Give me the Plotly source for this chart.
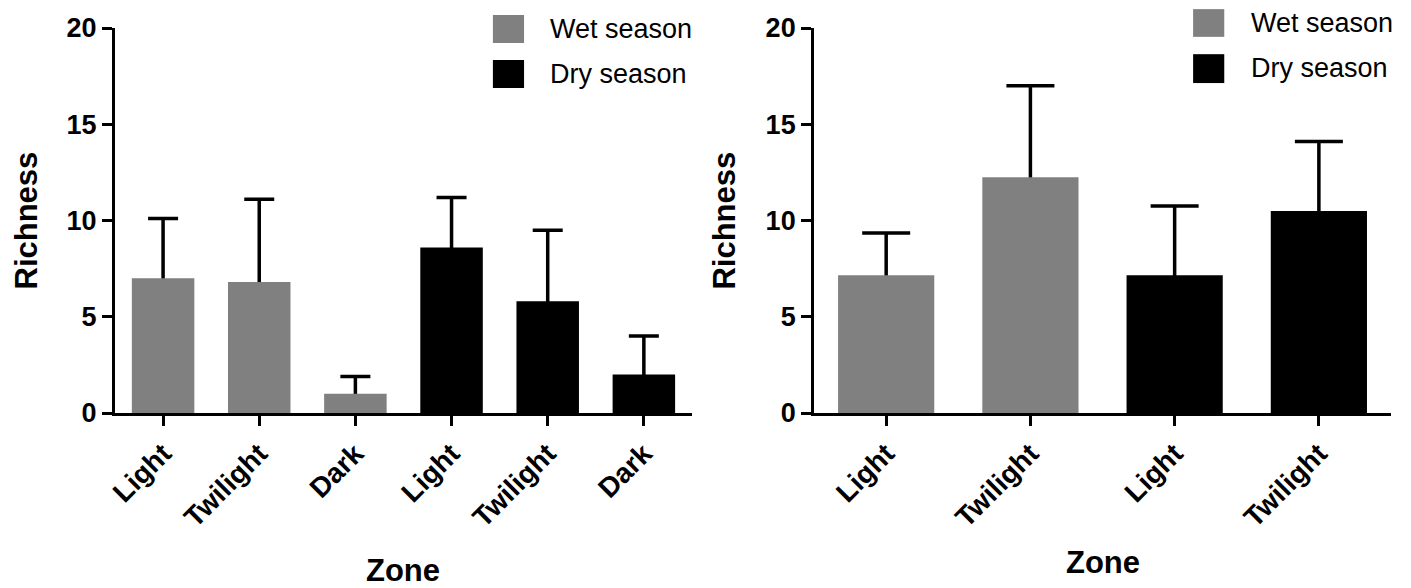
import plotly.graph_objects as go
from plotly.subplots import make_subplots

# ---- data ----
left_labels = ["Light", "Twilight", "Dark", "Light", "Twilight", "Dark"]
left_wet_mean = [7.0, 6.8, 1.0]
left_wet_err = [3.1, 4.3, 0.9]
left_dry_mean = [8.6, 5.8, 2.0]
left_dry_err = [2.6, 3.7, 2.0]

right_labels = ["Light", "Twilight", "Light", "Twilight"]
right_wet_mean = [7.15, 12.25]
right_wet_err = [2.2, 4.75]
right_dry_mean = [7.15, 10.5]
right_dry_err = [3.6, 3.6]

y_ticks = [0, 5, 10, 15, 20]
series_names = ["Wet season", "Dry season"]
WET = "#808080"
DRY = "#000000"
FONT = "Liberation Sans"

fig = make_subplots(rows=1, cols=2, horizontal_spacing=0.0957)


def add_bars(col, wet_m, wet_e, dry_m, dry_e, width, cap):
    nw = len(wet_m)
    xw = list(range(nw))
    xd = list(range(nw, nw + len(dry_m)))
    groups = [(xw, wet_m, wet_e, WET, series_names[0]),
              (xd, dry_m, dry_e, DRY, series_names[1])]
    # error bars first (drawn beneath the bars, only the upper whisker shows)
    for xs, m, e, c, name in groups:
        fig.add_trace(go.Bar(
            x=xs, y=m, width=width, name=name, showlegend=False,
            marker=dict(color="rgba(0,0,0,0)", line=dict(width=0)),
            hoverinfo="skip",
            error_y=dict(type="data", symmetric=False, array=e,
                         arrayminus=[0.2] * len(e), color="black",
                         thickness=3.5, width=cap),
        ), row=1, col=col)
    for xs, m, e, c, name in groups:
        fig.add_trace(go.Bar(
            x=xs, y=m, width=width, name=name, showlegend=False,
            marker=dict(color=c, line=dict(width=0)),
        ), row=1, col=col)


add_bars(1, left_wet_mean, left_wet_err, left_dry_mean, left_dry_err, 0.65, 15)
add_bars(2, right_wet_mean, right_wet_err, right_dry_mean, right_dry_err, 0.667, 24)

axis_common = dict(showline=True, linewidth=3, linecolor="black",
                   ticks="outside", ticklen=10, tickwidth=3, tickcolor="black",
                   showgrid=False, zeroline=False, automargin=False)

fig.update_xaxes(**axis_common, tickangle=-45,
                 tickfont=dict(family=FONT, size=28, color="black", weight="bold"))
fig.update_xaxes(range=[-0.5, 5.5], tickvals=list(range(len(left_labels))),
                 ticktext=left_labels, row=1, col=1)
fig.update_xaxes(range=[-0.5, 3.5], tickvals=list(range(len(right_labels))),
                 ticktext=right_labels, row=1, col=2)
fig.update_yaxes(**axis_common, range=[0, 20], tickvals=y_ticks,
                 ticktext=[str(v) for v in y_ticks],
                 tickfont=dict(family=FONT, size=27, color="black", weight="bold"))

fig.update_layout(
    width=1403, height=580, autosize=False,
    margin=dict(l=107, r=20, t=20, b=175, autoexpand=False),
    plot_bgcolor="white", paper_bgcolor="white",
    barmode="overlay", showlegend=False,
    font=dict(family=FONT, color="black"),
)

title_font = dict(family=FONT, size=31, color="black", weight="bold")
legend_font = dict(family=FONT, size=27, color="black")

# axis titles
for xr, yr, xs, zs in [("x domain", "y domain", -89, -157),
                       ("x2 domain", "y2 domain", -90, -149)]:
    fig.add_annotation(text="Richness", xref=xr, yref=yr, x=0, y=0.5,
                       xshift=xs, textangle=-90, showarrow=False,
                       font=title_font, xanchor="center", yanchor="middle")
    fig.add_annotation(text="Zone", xref=xr, yref=yr, x=0.5, y=0,
                       yshift=zs, showarrow=False, font=title_font,
                       xanchor="center", yanchor="middle")

# legends (one per panel)
legend_specs = [
    ("x domain", "y domain", 0.655, 0.709, [(1.034, 0.961), (0.917, 0.844)], 0.750, [0.997, 0.881]),
    ("x2 domain", "y2 domain", 0.657, 0.711, [(1.049, 0.977), (0.932, 0.857)], 0.754, [1.013, 0.896]),
]
for xr, yr, sx0, sx1, sy, tx, ty in legend_specs:
    for i, (name, col) in enumerate(zip(series_names, [WET, DRY])):
        fig.add_shape(type="rect", xref=xr, yref=yr, x0=sx0, x1=sx1,
                      y0=sy[i][1], y1=sy[i][0], fillcolor=col,
                      line=dict(width=0))
        fig.add_annotation(text=name, xref=xr, yref=yr, x=tx, y=ty[i],
                           showarrow=False, font=legend_font,
                           xanchor="left", yanchor="middle")

fig.write_html("out.html")
